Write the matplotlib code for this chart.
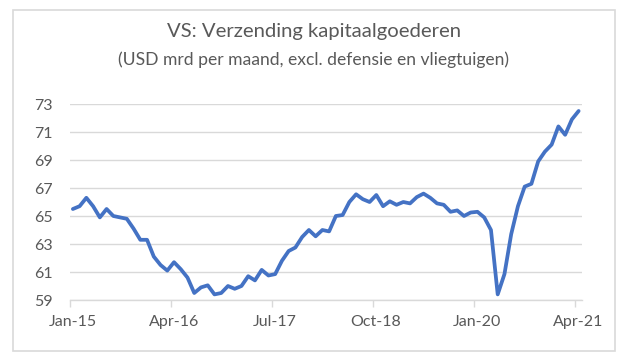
import matplotlib
matplotlib.use("Agg")
import matplotlib.pyplot as plt
import matplotlib.transforms as mtransforms
from matplotlib.patches import Rectangle

title = "VS: Verzending kapitaalgoederen"
subtitle = "(USD mrd per maand, excl. defensie en vliegtuigen)"

# Monthly values Jan-15 .. Apr-21
values = [
    65.5, 65.7, 66.3, 65.7, 64.9, 65.5, 65.0, 64.9, 64.8, 64.1, 63.3, 63.3,  # 2015
    62.1, 61.5, 61.1, 61.7, 61.2, 60.6, 59.5, 59.9, 60.05, 59.4, 59.5, 60.0,  # 2016
    59.8, 60.0, 60.7, 60.4, 61.15, 60.75, 60.85, 61.8, 62.5, 62.75, 63.5, 64.0,  # 2017
    63.55, 64.0, 63.9, 65.0, 65.07, 66.0, 66.55, 66.2, 66.0, 66.5, 65.7, 66.05,  # 2018
    65.8, 66.0, 65.9, 66.35, 66.6, 66.3, 65.9, 65.8, 65.3, 65.4, 65.0, 65.25,  # 2019
    65.3, 64.9, 64.0, 59.4, 60.85, 63.7, 65.7, 67.1, 67.3, 68.9, 69.6, 70.1,  # 2020
    71.4, 70.8, 71.9, 72.5,  # 2021
]
tick_labels = ["Jan-15", "Apr-16", "Jul-17", "Oct-18", "Jan-20", "Apr-21"]
tick_step = 15
y_ticks = [59, 61, 63, 65, 67, 69, 71, 73]

FONT = ["Lato", "DejaVu Sans"]
plt.rcParams["font.family"] = FONT

W, H = 625, 363
fig = plt.figure(figsize=(W / 100, H / 100), dpi=100)
fig.patch.set_facecolor("white")

# chart border
fig.add_artist(Rectangle((12.7 / W, 1 - 350.7 / H), (615 - 12.7) / W, (350.7 - 10) / H,
                         transform=fig.transFigure, fill=False, edgecolor="#d9d9d9", lw=1.2))

left, right = 69.5 / W, 582 / W
bottom, top = 1 - 300 / H, 1 - 104 / H
ax = fig.add_axes([left, bottom, right - left, top - bottom])

n = len(values)
xs = [i + 0.5 for i in range(n)]
ax.plot(xs, values, color="#4472C4", lw=2.7, solid_joinstyle="round", solid_capstyle="round", zorder=3)

ax.set_xlim(0, n)
ax.set_ylim(y_ticks[0], y_ticks[-1])
ax.set_yticks(y_ticks)
ax.set_yticklabels([str(v) for v in y_ticks])
ax.set_xticks([i * tick_step for i in range(len(tick_labels))])
ax.set_xticklabels(tick_labels)

ax.grid(axis="y", color="#d9d9d9", lw=1.0)
ax.set_axisbelow(True)
for s in ["left", "right", "top"]:
    ax.spines[s].set_visible(False)
ax.spines["bottom"].set_color("#d9d9d9")
ax.spines["bottom"].set_linewidth(1.0)
ax.spines["bottom"].set_zorder(2)

ax.tick_params(axis="y", length=0, pad=12, labelsize=11.5, labelcolor="#595959")
ax.tick_params(axis="x", length=5, width=1.0, color="#d9d9d9", direction="out",
               pad=6, labelsize=11.5, labelcolor="#595959")
offset = mtransforms.ScaledTranslation(3 / 100, 0, fig.dpi_scale_trans)
for lab in ax.get_xticklabels():
    lab.set_transform(lab.get_transform() + offset)

fig.text(314 / W, 1 - 31 / H, title, ha="center", va="center", fontsize=14.6, color="#595959")
fig.text(313.5 / W, 1 - 60 / H, subtitle, ha="center", va="center", fontsize=12.6, color="#595959")

fig.savefig("out.png", dpi=100, facecolor="white")
